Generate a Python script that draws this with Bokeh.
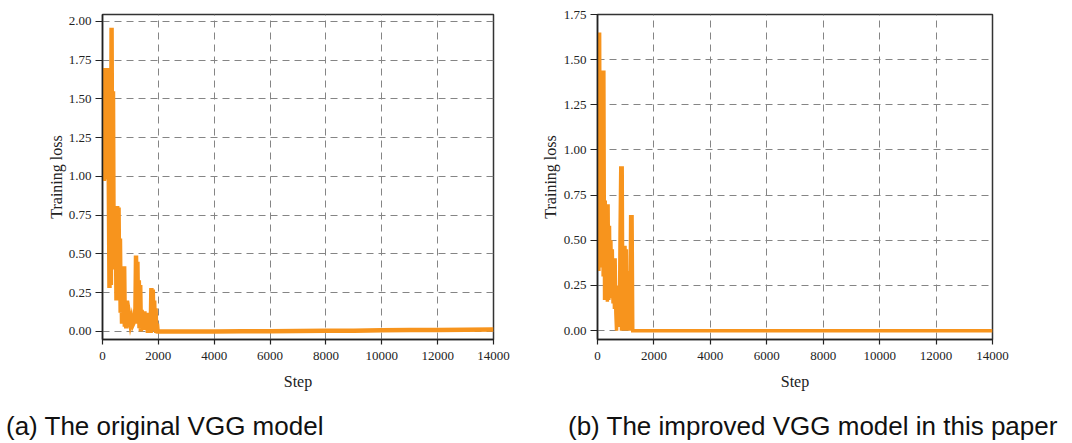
from bokeh.plotting import figure
from bokeh.layouts import row, column
from bokeh.models import FixedTicker, NumeralTickFormatter, Range1d, Div
from bokeh.embed import file_html
from bokeh.resources import INLINE

# ---------------- data ----------------
steps_a = [0, 25, 50, 75, 100, 125, 150, 175, 200, 225, 250, 275, 300, 325, 350, 375,
           400, 425, 450, 475, 500, 525, 550, 575, 600, 625, 650, 675, 700, 725, 750, 775,
           800, 825, 850, 875, 900, 925, 950, 975, 1000, 1025, 1050, 1075, 1100, 1125, 1150, 1175,
           1200, 1225, 1250, 1275, 1300, 1325, 1350, 1375, 1400, 1425, 1450, 1475, 1500, 1525, 1550, 1575,
           1600, 1625, 1650, 1675, 1700, 1725, 1750, 1775, 1800, 1825, 1850, 1875, 1900, 1925, 1950, 1975,
           2000, 3000, 4000, 5000, 6000, 7000, 8000, 9000, 10000, 11000, 12000, 13000, 14000]
loss_a = [1.00, 1.70, 0.97, 1.70, 1.00, 1.70, 0.98, 1.33, 1.70, 1.00, 0.28, 1.20, 0.30, 1.96, 0.62, 1.55,
          0.45, 0.81, 0.40, 0.80, 0.20, 0.81, 0.30, 0.80, 0.22, 0.60, 0.12, 0.35, 0.05, 0.25, 0.08, 0.42,
          0.03, 0.20, 0.02, 0.20, 0.05, 0.10, 0.03, 0.08, 0.05, 0.07, 0.03, 0.09, 0.05, 0.06, 0.10, 0.06,
          0.49, 0.10, 0.45, 0.05, 0.33, 0.02, 0.30, 0.00, 0.14, 0.02, 0.12, 0.04, 0.13, 0.01, 0.11, 0.03,
          0.12, -0.01, 0.10, 0.02, 0.09, -0.01, 0.28, 0.05, 0.27, 0.02, 0.20, 0.00, 0.15, -0.01, 0.05, 0.00,
          0.000, 0.000, 0.000, 0.001, 0.002, 0.003, 0.004, 0.005, 0.007, 0.009, 0.010, 0.011, 0.012]

steps_b = [0, 25, 50, 75, 100, 125, 150, 175, 200, 225, 250, 275, 300, 325, 350, 375,
           400, 425, 450, 475, 500, 525, 550, 575, 600, 625, 650, 675, 700, 725, 750, 775,
           800, 825, 850, 875, 900, 925, 950, 975, 1000, 1025, 1050, 1075, 1100, 1125, 1150, 1175,
           1200, 1225, 1250, 1300, 14000]
loss_b = [0.33, 1.65, 0.33, 1.65, 0.40, 1.20, 0.35, 1.44, 0.30, 1.44, 0.17, 0.72, 0.18, 0.70, 0.16, 0.70,
          0.17, 0.58, 0.18, 0.50, 0.20, 0.45, 0.15, 0.40, 0.12, 0.40, 0.10, 0.00, 0.22, 0.05, 0.25, 0.02,
          0.55, 0.91, 0.00, 0.91, 0.02, 0.30, 0.00, 0.47, 0.05, 0.45, 0.00, 0.33, 0.02, 0.30, 0.00, 0.64,
          0.10, 0.64, 0.00, 0.00, 0.00]

x_ticks = [0, 2000, 4000, 6000, 8000, 10000, 12000, 14000]
y_ticks_a = [0.0, 0.25, 0.5, 0.75, 1.0, 1.25, 1.5, 1.75, 2.0]
y_ticks_b = [0.0, 0.25, 0.5, 0.75, 1.0, 1.25, 1.5, 1.75]
x_label = "Step"
y_label = "Training loss"
caption_a = "(a) The original VGG model"
caption_b = "(b) The improved VGG model in this paper"

LINE = "#F7941D"
SERIF = "Liberation Serif"
FIG_H = 405


def make_plot(steps, loss, yticks, yr, width, borders, lw, ylab_standoff):
    p = figure(width=width, height=FIG_H, output_backend="svg", toolbar_location=None,
               x_range=Range1d(0, 14000), y_range=Range1d(*yr),
               min_border_left=borders[0], min_border_right=borders[1],
               min_border_top=borders[2], min_border_bottom=borders[3])
    p.line(steps, loss, line_color=LINE, line_width=lw, line_join="miter")
    p.background_fill_color = "white"
    p.border_fill_color = "white"
    p.outline_line_color = "#333333"
    p.outline_line_width = 1.5
    for ax in (p.xaxis[0], p.yaxis[0]):
        ax.axis_line_color = "#222222"
        ax.axis_line_width = 1.5
        ax.major_tick_line_color = "#222222"
        ax.major_tick_line_width = 1.2
        ax.major_tick_in = 0
        ax.minor_tick_line_color = None
        ax.major_label_text_font = SERIF
        ax.major_label_text_font_size = "13px"
        ax.major_label_text_color = "#222222"
        ax.axis_label_text_font = SERIF
        ax.axis_label_text_font_size = "16px"
        ax.axis_label_text_font_style = "normal"
        ax.axis_label_text_color = "#222222"
    p.xaxis.ticker = FixedTicker(ticks=x_ticks)
    p.yaxis.ticker = FixedTicker(ticks=yticks)
    p.yaxis.formatter = NumeralTickFormatter(format="0.00")
    p.xaxis.major_tick_out = 5
    p.xaxis.major_label_standoff = 7
    p.yaxis.major_tick_out = 7
    p.yaxis.major_label_standoff = 4
    p.xaxis.axis_label = x_label
    p.yaxis.axis_label = y_label
    p.xaxis.axis_label_standoff = 10
    p.yaxis.axis_label_standoff = ylab_standoff
    for g in (p.xgrid[0], p.ygrid[0]):
        g.grid_line_color = "#858585"
        g.grid_line_dash = "7 5"
        g.grid_line_width = 1
    return p


# left: page x 0..530, frame 102..493, frame top 14, bottom 339
p1 = make_plot(steps_a, loss_a, y_ticks_a, (-0.052, 2.045), 530,
               (102, 37, 14, FIG_H - 339), 4.5, 1)
# right: page x 530..1072, frame 597..992, top 10, bottom 340
p2 = make_plot(steps_b, loss_b, y_ticks_b, (-0.049, 1.75), 542,
               (67, 80, 10, FIG_H - 340), 3.5, 2)

cap_style = {"font-family": "'Liberation Sans', Arial, sans-serif", "font-size": "26px",
             "color": "#111111", "padding-top": "6px", "white-space": "nowrap",
             "line-height": "30px"}
div_a = Div(text=caption_a, width=568, margin=0,
            styles=dict(cap_style, **{"padding-left": "6px"}))
div_b = Div(text=caption_b, width=504, margin=0, styles=dict(cap_style))

layout = column(row(p1, p2), row(div_a, div_b))
open("out.html", "w").write(file_html(layout, INLINE))
